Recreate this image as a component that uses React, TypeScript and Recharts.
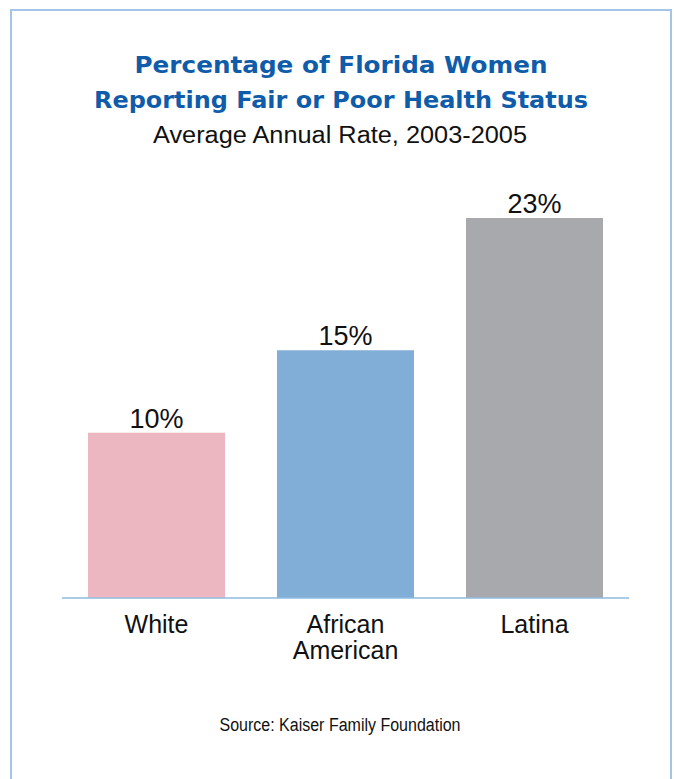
import React from "react";
import { BarChart, Bar, XAxis, YAxis, Cell, LabelList } from "recharts";

const categories = ["White", "African American", "Latina"];
const rates = [10, 15, 23];
const valueLabels = ["10%", "15%", "23%"];
const barColors = ["#ecb7c1", "#80aed6", "#a8a9ad"];

const titleLines = ["Percentage of Florida Women", "Reporting Fair or Poor Health Status"];
const subtitle = "Average Annual Rate, 2003-2005";
const source = "Source: Kaiser Family Foundation";

const data = categories.map((c, i) => ({ name: c, value: rates[i], label: valueLabels[i] }));
const maxValue = Math.max(...rates);

const W = 674;
const H = 779;

const CategoryTick = (props: any) => {
  const { x, y, payload } = props;
  const lines = String(payload.value).split(" ");
  return (
    <text
      x={x}
      y={y}
      textAnchor="middle"
      fill="#111"
      fontFamily="'Liberation Sans', Arial, sans-serif"
      fontSize={25}
    >
      {lines.map((l, i) => (
        <tspan key={i} x={x} dy={i === 0 ? 35 : 26}>
          {l}
        </tspan>
      ))}
    </text>
  );
};

export default function App() {
  return (
    <div
      style={{
        position: "absolute",
        left: 0,
        top: 0,
        width: W,
        height: H,
        background: "#fff",
        overflow: "hidden",
      }}
    >
      <div
        style={{
          position: "absolute",
          left: 10,
          top: 9,
          width: 662,
          height: 820,
          border: "2px solid #a3c6e8",
          boxSizing: "border-box",
        }}
      />
      <div style={{ position: "absolute", left: 0, top: 0 }}>
        <BarChart
          width={W}
          height={H}
          data={data}
          margin={{ top: 218, right: 45, bottom: 121, left: 62 }}
        >
          <XAxis
            dataKey="name"
            height={60}
            tickLine={false}
            tickSize={0}
            tickMargin={0}
            axisLine={{ stroke: "#8fbbe2", strokeWidth: 1.5 }}
            tick={<CategoryTick />}
            interval={0}
          />
          <YAxis hide domain={[0, maxValue]} allowDataOverflow />
          <Bar dataKey="value" barSize={137} isAnimationActive={false}>
            {data.map((d, i) => (
              <Cell key={i} fill={barColors[i]} />
            ))}
            <LabelList
              dataKey="label"
              position="top"
              offset={5}
              fill="#111"
              fontSize={27}
              fontFamily="'Liberation Sans', Arial, sans-serif"
            />
          </Bar>
        </BarChart>
      </div>
      <svg
        width={W}
        height={H}
        style={{ position: "absolute", left: 0, top: 0, pointerEvents: "none" }}
      >
        <text
          x={341}
          y={73}
          textAnchor="middle"
          fill="#0f5caa"
          fontFamily="'DejaVu Sans', sans-serif"
          fontWeight="bold"
          fontSize={23}
          textLength={413}
          lengthAdjust="spacingAndGlyphs"
        >
          {titleLines[0]}
        </text>
        <text
          x={341}
          y={108}
          textAnchor="middle"
          fill="#0f5caa"
          fontFamily="'DejaVu Sans', sans-serif"
          fontWeight="bold"
          fontSize={23}
          textLength={494}
          lengthAdjust="spacingAndGlyphs"
        >
          {titleLines[1]}
        </text>
        <text
          x={340}
          y={143}
          textAnchor="middle"
          fill="#111"
          fontFamily="'Liberation Sans', Arial, sans-serif"
          fontSize={23}
          textLength={374}
          lengthAdjust="spacingAndGlyphs"
        >
          {subtitle}
        </text>
        <text
          x={340}
          y={731}
          textAnchor="middle"
          fill="#111"
          fontFamily="'Liberation Sans', Arial, sans-serif"
          fontSize={18}
          textLength={241}
          lengthAdjust="spacingAndGlyphs"
        >
          {source}
        </text>
      </svg>
    </div>
  );
}
